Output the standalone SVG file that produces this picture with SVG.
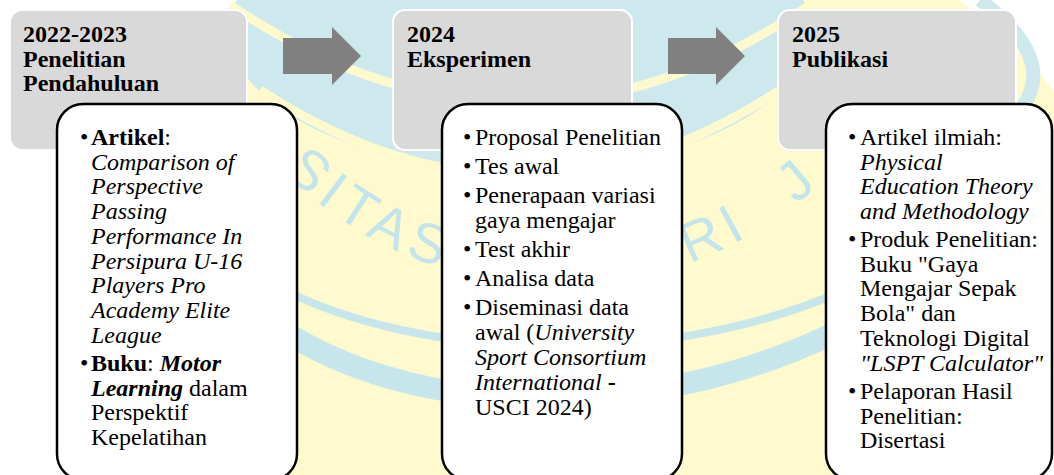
<svg xmlns="http://www.w3.org/2000/svg" width="1054" height="475" viewBox="0 0 1054 475">
<style>
.hd{font-family:"Liberation Serif","Times New Roman",serif;font-size:24px;font-weight:bold;fill:#000}
.tx{font-family:"Liberation Serif","Times New Roman",serif;font-size:24px;fill:#000}
.b{font-weight:bold}
.i{font-style:italic}
.gray{fill:#d9d9d9;stroke:#ffffff;stroke-width:2}
.card{fill:#ffffff;stroke:#000000;stroke-width:2.5}
.arrow{fill:#808080}
.wm{font-family:"Liberation Sans",Arial,sans-serif;font-size:56px;fill:#c3e4ea;letter-spacing:7px}
</style>
<defs>
<path id="arc" d="M 170 -102 A 388 388 0 0 0 946 -102"/>
</defs>
<g id="watermark">
<rect x="0" y="0" width="1054" height="475" fill="#ffffff"/>
<ellipse cx="600" cy="230" rx="500" ry="330" fill="#fffacd"/>
<ellipse cx="520" cy="30" rx="290" ry="140" fill="#cde9ee"/>
<path d="M 230 5 Q 520 200 810 5" fill="none" stroke="#fffacd" stroke-width="9"/>
<path d="M 260 90 Q 520 260 780 90" fill="none" stroke="#fffacd" stroke-width="9"/>
<path d="M 980 0 Q 1060 60 1020 110" fill="none" stroke="#cde9ee" stroke-width="14"/>
<path d="M 280 288 C 420 360 660 370 840 292" fill="none" stroke="#c6e6ec" stroke-width="8"/>
<path d="M 290 335 C 430 420 650 420 830 335" fill="none" stroke="#c6e6ec" stroke-width="22"/>
<text class="wm"><textPath href="#arc" startOffset="303">SITAS</textPath></text>
<text class="wm" style="word-spacing:30px"><textPath href="#arc" startOffset="743">RI J</textPath></text>
</g>
<g id="connectors">
<polygon class="arrow" points="283,38 332,38 332,27 361,56 332,85 332,74 283,74"/>
<polygon class="arrow" points="668,38 716,38 716,27 745,56 716,85 716,74 668,74"/>
</g>
<g id="stage1">
<rect class="gray" x="10" y="10" width="237" height="140" rx="12"/>
<text class="hd" x="23" y="42">2022-2023</text>
<text class="hd" x="23" y="66.5">Penelitian</text>
<text class="hd" x="23" y="91">Pendahuluan</text>
</g>
<g id="detail1">
<rect class="card" x="57" y="104" width="240" height="376" rx="26"/>
<text class="tx" x="80" y="145">•</text>
<text class="tx" x="91" y="145"><tspan class="b">Artikel</tspan>:</text>
<text class="tx i" x="91" y="169.7">Comparison of</text>
<text class="tx i" x="91" y="194.4">Perspective</text>
<text class="tx i" x="91" y="219.1">Passing</text>
<text class="tx i" x="91" y="243.8">Performance In</text>
<text class="tx i" x="91" y="268.5">Persipura U-16</text>
<text class="tx i" x="91" y="293.2">Players Pro</text>
<text class="tx i" x="91" y="317.9">Academy Elite</text>
<text class="tx i" x="91" y="342.6">League</text>
<text class="tx" x="80" y="371">•</text>
<text class="tx" x="91" y="371"><tspan class="b">Buku</tspan>: <tspan class="b i">Motor</tspan></text>
<text class="tx" x="91" y="395.7"><tspan class="b i">Learning</tspan> dalam</text>
<text class="tx" x="91" y="420.4">Perspektif</text>
<text class="tx" x="91" y="445.1">Kepelatihan</text>
</g>
<g id="stage2">
<rect class="gray" x="393" y="10" width="239" height="140" rx="12"/>
<text class="hd" x="407" y="42">2024</text>
<text class="hd" x="407" y="66.5">Eksperimen</text>
</g>
<g id="detail2">
<rect class="card" x="442" y="104" width="240" height="376" rx="26"/>
<text class="tx" x="463" y="145">•</text>
<text class="tx" x="475" y="145">Proposal Penelitian</text>
<text class="tx" x="463" y="174">•</text>
<text class="tx" x="475" y="174">Tes awal</text>
<text class="tx" x="463" y="203">•</text>
<text class="tx" x="475" y="203">Penerapaan variasi</text>
<text class="tx" x="475" y="227.9">gaya mengajar</text>
<text class="tx" x="463" y="256.9">•</text>
<text class="tx" x="475" y="256.9">Test akhir</text>
<text class="tx" x="463" y="285.9">•</text>
<text class="tx" x="475" y="285.9">Analisa data</text>
<text class="tx" x="463" y="314.9">•</text>
<text class="tx" x="475" y="314.9">Diseminasi data</text>
<text class="tx" x="475" y="339.8">awal (<tspan class="i">University</tspan></text>
<text class="tx i" x="475" y="364.7">Sport Consortium</text>
<text class="tx" x="475" y="389.6"><tspan class="i">International</tspan> <tspan class="b">-</tspan></text>
<text class="tx" x="475" y="414.5">USCI 2024)</text>
</g>
<g id="stage3">
<rect class="gray" x="778" y="10" width="238" height="140" rx="12"/>
<text class="hd" x="792" y="42">2025</text>
<text class="hd" x="792" y="66.5">Publikasi</text>
</g>
<g id="detail3">
<rect class="card" x="826" y="104" width="226" height="376" rx="26"/>
<text class="tx" x="848" y="145">•</text>
<text class="tx" x="860" y="145">Artikel ilmiah:</text>
<text class="tx i" x="860" y="169.7">Physical</text>
<text class="tx i" x="860" y="194.4">Education Theory</text>
<text class="tx i" x="860" y="219.1">and Methodology</text>
<text class="tx" x="848" y="247">•</text>
<text class="tx" x="860" y="247">Produk Penelitian:</text>
<text class="tx" x="860" y="271.7">Buku "Gaya</text>
<text class="tx" x="860" y="296.4">Mengajar Sepak</text>
<text class="tx" x="860" y="321.1">Bola" dan</text>
<text class="tx" x="860" y="345.8">Teknologi Digital</text>
<text class="tx i" x="860" y="370.5">"LSPT Calculator"</text>
<text class="tx" x="848" y="399">•</text>
<text class="tx" x="860" y="399">Pelaporan Hasil</text>
<text class="tx" x="860" y="423.7">Penelitian:</text>
<text class="tx" x="860" y="448.4">Disertasi</text>
</g>
</svg>
